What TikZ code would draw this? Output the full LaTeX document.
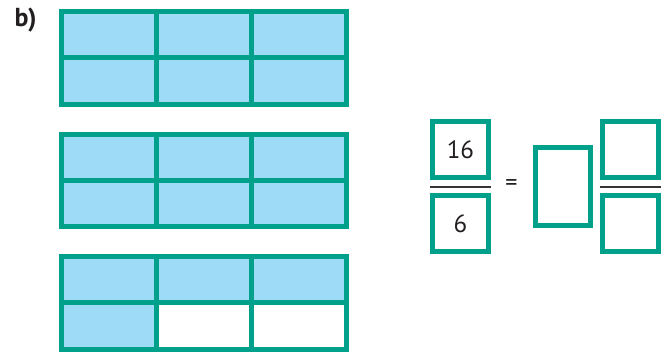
\documentclass[tikz,border=0pt]{standalone}
\usepackage{fontspec}
\setmainfont{PT Sans}
\usepackage{tikz}
\usetikzlibrary{calc}
\definecolor{barsgreen}{HTML}{00A08A}
\definecolor{barsblue}{HTML}{9DDBF6}
\definecolor{barsink}{HTML}{231F20}

\begin{document}
\begin{tikzpicture}[x=1pt,y=-1pt,line cap=butt,text=barsink,
  cell/.style={draw=barsgreen,line width=5pt,fill=barsblue,inner sep=0pt,
    minimum width=95pt,minimum height=46.3pt},
  emptycell/.style={cell,fill=white},
  numbox/.style={draw=barsgreen,line width=5pt,fill=white,inner sep=0pt,
    minimum width=55.7pt,minimum height=55.7pt,font=\fontsize{25}{30}\selectfont},
  bar/.style={draw=barsink!90,line width=2pt}]
\path[use as bounding box] (0,0) rectangle (669,352);
\fill[white] (0,0) rectangle (669,352);
\node[font=\bfseries\fontsize{26}{30}\selectfont] (part) at (25.5,20) {b)};

% drei Streifen mit 2x3 Feldern; \n Felder gefaerbt
\foreach \g/\top/\n in {a/11.5/6,b/134.2/6,c/256.5/4}
  \foreach \k in {1,...,6}{
    \pgfmathtruncatemacro{\col}{mod(\k-1,3)}
    \pgfmathtruncatemacro{\row}{(\k-1)/3}
    \ifnum\k>\n \def\kind{emptycell}\else \def\kind{cell}\fi
    \node[\kind] (\g\k) at ({61.8+95*(\col+0.5)},{\top+46.3*(\row+0.5)}) {};
  }

% Bruch 16/6 = ganze Zahl und Rest
\node[numbox] (numtop) at (460.4,149.7) {16};
\node[numbox] (numbot) at (460.4,223.3) {6};
\draw[bar] ($(numtop.south west)!.55!(numbot.north west)$) -- ($(numtop.south east)!.55!(numbot.north east)$);
\node[font=\fontsize{24}{28}\selectfont] (eq) at (511.5,185) {=};
\node[numbox,minimum width=55pt,minimum height=77.7pt] (whole) at (562.7,186.3) {};
\node[numbox] (anstop) at (630.5,149.7) {};
\node[numbox] (ansbot) at (630.5,223.3) {};
\draw[bar] ($(anstop.south west)!.55!(ansbot.north west)$) -- ($(anstop.south east)!.55!(ansbot.north east)$);
\end{tikzpicture}
\end{document}
